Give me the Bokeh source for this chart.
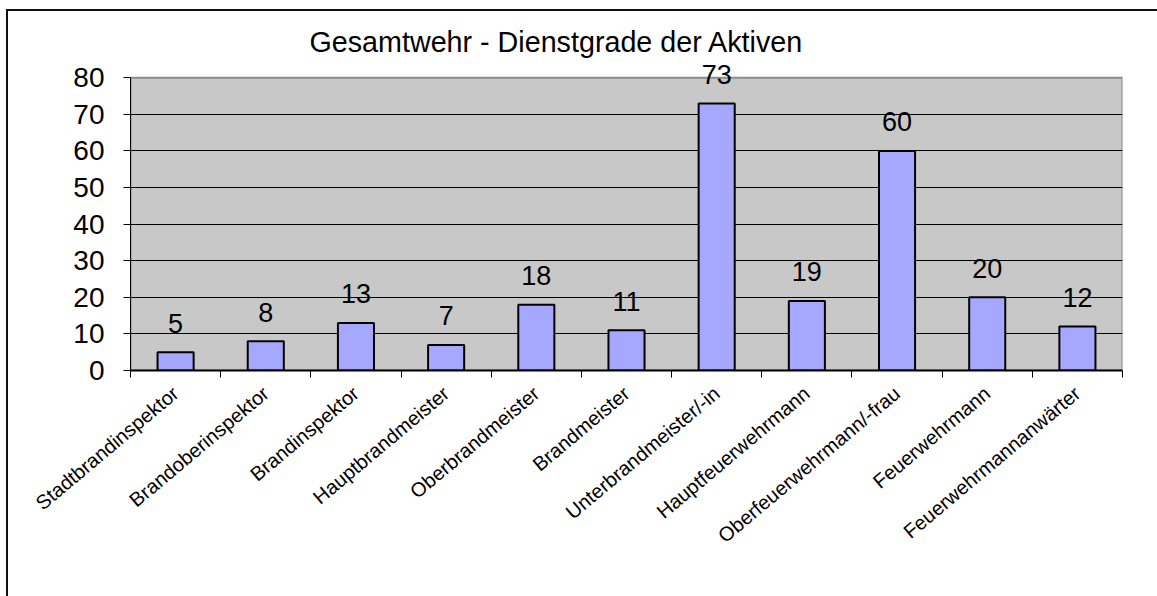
from bokeh.plotting import figure
from bokeh.models import ColumnDataSource, Label, FixedTicker, Range1d, BoxAnnotation
from bokeh.embed import file_html
from bokeh.resources import INLINE
import math

categories = ["Stadtbrandinspektor", "Brandoberinspektor", "Brandinspektor",
              "Hauptbrandmeister", "Oberbrandmeister", "Brandmeister",
              "Unterbrandmeister/-in", "Hauptfeuerwehrmann",
              "Oberfeuerwehrmann/-frau", "Feuerwehrmann", "Feuerwehrmannanwärter"]
values = [5, 8, 13, 7, 18, 11, 73, 19, 60, 20, 12]
y_ticks = [0, 10, 20, 30, 40, 50, 60, 70, 80]
title_text = "Gesamtwehr - Dienstgrade der Aktiven"

FONT = "Liberation Sans"
n = len(categories)
centers = [i + 0.5 for i in range(n)]
boundaries = list(range(n + 1))
y_min, y_max = y_ticks[0], y_ticks[-1]
HEADROOM = 5  # extra frame space above the axis so value labels are not clipped

src = ColumnDataSource(dict(x=centers, top=values))

p = figure(width=1157, height=596, tools="",
           x_range=Range1d(0, n), y_range=Range1d(y_min, y_max + HEADROOM),
           output_backend="svg", toolbar_location=None,
           min_border_left=130, min_border_top=59, min_border_right=35, min_border_bottom=226)
p.toolbar.logo = None
p.toolbar.visible = False
p.border_fill_color = None
p.background_fill_color = None
p.outline_line_color = None
p.styles = {
    "background-color": "white",
    "background-image": "linear-gradient(#111,#111), linear-gradient(#111,#111)",
    "background-size": "2px 100%, 100% 2px",
    "background-position": "6px 9px, 6px 9px",
    "background-repeat": "no-repeat",
    "overflow": "hidden",
}

p.title.text = title_text
p.title.text_font = FONT
p.title.text_font_size = "28.7px"
p.title.text_font_style = "normal"
p.title.text_color = "black"
p.title.align = "left"
p.title.offset = 179
p.title.standoff = 4

# grey plot area (0..80) with grey border
plot_area = BoxAnnotation(bottom=y_min, top=y_max, left=0, right=n,
                          fill_color="#C8C8C8", fill_alpha=1,
                          line_color="#8c8c8c", line_width=2, line_alpha=1,
                          level="image")
p.add_layout(plot_area)

p.vbar(x="x", top="top", bottom=0, width=0.4, source=src,
       fill_color="#A6A8FF", line_color="black", line_width=2)

for xc, v in zip(centers, values):
    p.add_layout(Label(x=xc, y=v, text=str(v), y_offset=29,
                       text_align="center", text_baseline="alphabetic",
                       text_font=FONT, text_font_size="27px", text_color="black"))

# x axis
xa = p.xaxis[0]
xa.ticker = FixedTicker(ticks=centers, minor_ticks=boundaries)
xa.major_label_overrides = {t: cat for t, cat in zip(centers, categories)}
xa.major_tick_line_color = None
xa.major_tick_out = 0
xa.major_tick_in = 0
xa.minor_tick_line_color = "black"
xa.minor_tick_out = 7
xa.minor_tick_in = 0
xa.axis_line_color = "black"
xa.axis_line_width = 2
xa.major_label_orientation = math.radians(40)
xa.major_label_standoff = 13
xa.major_label_text_font = FONT
xa.major_label_text_font_size = "20px"
xa.major_label_text_color = "black"

# y axis
ya = p.yaxis[0]
ya.ticker = FixedTicker(ticks=y_ticks)
ya.bounds = (y_min, y_max)
ya.minor_tick_line_color = None
ya.major_tick_out = 7
ya.major_tick_in = 0
ya.major_tick_line_color = "black"
ya.axis_line_color = "black"
ya.axis_line_width = 1
ya.major_label_standoff = 19
ya.major_label_text_font = FONT
ya.major_label_text_font_size = "28px"
ya.major_label_text_color = "black"

p.xgrid.grid_line_color = None
p.ygrid.ticker = FixedTicker(ticks=y_ticks[1:-1])
p.ygrid.grid_line_color = "black"
p.ygrid.grid_line_width = 1

open("out.html", "w").write(file_html(p, INLINE))
